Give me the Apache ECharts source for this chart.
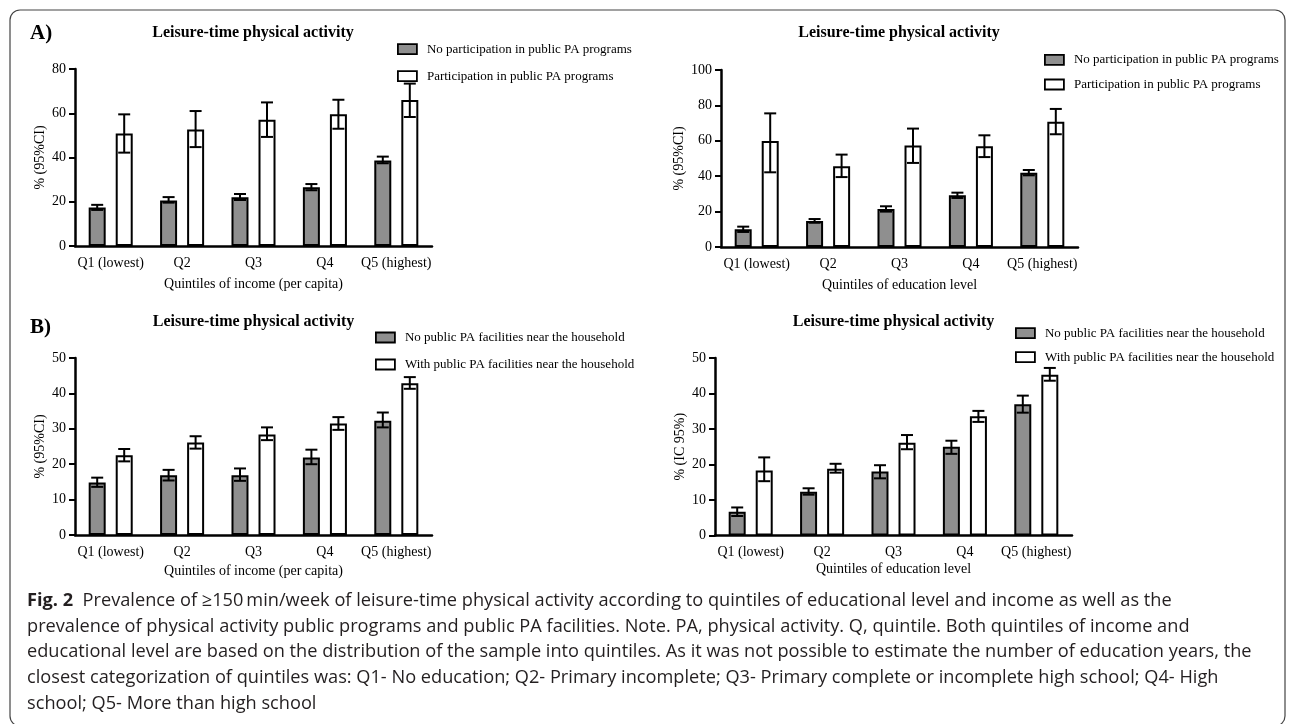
<!DOCTYPE html>
<html><head><meta charset="utf-8">
<script src="https://cdn.jsdelivr.net/npm/echarts@6/dist/echarts.min.js"></script>
<style>html,body{margin:0;padding:0;background:#fff}#c{width:1292px;height:724px}</style>
</head><body><div id="c"></div>
<script>
const categories = ['Q1 (lowest)', 'Q2', 'Q3', 'Q4', 'Q5 (highest)'];

// A) left: quintiles of income, PA programs
const aIncNo     = [17.4, 20.6, 22.0, 26.5, 38.7];
const aIncNoLo   = [16.3, 19.6, 20.8, 25.2, 37.4];
const aIncNoHi   = [18.6, 22.1, 23.5, 28.0, 40.4];
const aIncYes    = [50.8, 52.7, 57.1, 59.5, 66.0];
const aIncYesLo  = [42.2, 44.7, 49.3, 53.0, 58.3];
const aIncYesHi  = [59.5, 61.0, 64.9, 66.1, 73.4];

// A) right: quintiles of education, PA programs
const aEduNo     = [10.0, 14.7, 21.5, 29.2, 42.0];
const aEduNoLo   = [8.5, 13.7, 20.0, 27.7, 40.5];
const aEduNoHi   = [11.5, 15.8, 23.0, 30.7, 43.5];
const aEduYes    = [59.9, 45.6, 57.3, 56.9, 70.8];
const aEduYesLo  = [42.2, 39.5, 47.5, 50.8, 63.7];
const aEduYesHi  = [75.5, 52.2, 66.9, 63.1, 78.0];

// B) left: quintiles of income, PA facilities
const bIncNo     = [14.8, 16.9, 16.9, 21.9, 32.3];
const bIncNoLo   = [13.6, 15.4, 15.3, 20.0, 30.4];
const bIncNoHi   = [16.2, 18.4, 18.8, 24.1, 34.6];
const bIncYes    = [22.5, 26.1, 28.4, 31.5, 42.9];
const bIncYesLo  = [20.8, 24.4, 26.8, 29.7, 41.3];
const bIncYesHi  = [24.3, 27.9, 30.4, 33.3, 44.6];

// B) right: quintiles of education, PA facilities
const bEduNo     = [6.7, 12.3, 18.0, 25.0, 37.0];
const bEduNoLo   = [5.5, 11.5, 16.1, 23.0, 34.6];
const bEduNoHi   = [7.9, 13.3, 19.8, 26.7, 39.4];
const bEduYes    = [18.3, 18.8, 26.1, 33.6, 45.3];
const bEduYesLo  = [15.3, 17.7, 24.3, 32.0, 43.6];
const bEduYesHi  = [22.0, 20.2, 28.3, 35.1, 47.2];

const nameProgNo = 'No participation in public PA programs';
const nameProgYes = 'Participation in public PA programs';
const nameFacNo = 'No public PA facilities near the household';
const nameFacYes = 'With public PA facilities near the household';

const panelTitle = 'Leisure-time physical activity';
const xNameIncome = 'Quintiles of income (per capita)';
const xNameEdu = 'Quintiles of education level';
const yNameCI = '% (95%CI)';
const yNameIC = '% (IC 95%)';

const captionLines = [
  'Prevalence of \u2265150\u2009min/week of leisure-time physical activity according to quintiles of educational level and income as well as the',
  'prevalence of physical activity public programs and public PA facilities. Note. PA, physical activity. Q, quintile. Both quintiles of income and',
  'educational level are based on the distribution of the sample into quintiles. As it was not possible to estimate the number of education years, the',
  'closest categorization of quintiles was: Q1- No education; Q2- Primary incomplete; Q3- Primary complete or incomplete high school; Q4- High',
  'school; Q5- More than high school'
];

const SERIF = "'Liberation Serif','Times New Roman',serif";
const GRAY = '#8f8f8f';
const BAR_W = 17;
const OFF = 13.5;

const panels = [
  { grid: {left: 75, top: 69, width: 357, height: 177}, max: 80, interval: 20,
    xName: xNameIncome, yName: yNameCI, xGap: 31, yGap: 28,
    series: [[nameProgNo, aIncNo, aIncNoLo, aIncNoHi], [nameProgYes, aIncYes, aIncYesLo, aIncYesHi]],
    legend: {left: 397, top: 42.7, gap: 14} },
  { grid: {left: 721, top: 70, width: 357, height: 177}, max: 100, interval: 20,
    xName: xNameEdu, yName: yNameCI, xGap: 31, yGap: 35,
    series: [[nameProgNo, aEduNo, aEduNoLo, aEduNoHi], [nameProgYes, aEduYes, aEduYesLo, aEduYesHi]],
    legend: {left: 1044, top: 53.3, gap: 11.7} },
  { grid: {left: 75, top: 358, width: 357, height: 177}, max: 50, interval: 10,
    xName: xNameIncome, yName: yNameCI, xGap: 29, yGap: 28,
    series: [[nameFacNo, bIncNo, bIncNoLo, bIncNoHi], [nameFacYes, bIncYes, bIncYesLo, bIncYesHi]],
    legend: {left: 375, top: 331, gap: 14} },
  { grid: {left: 715, top: 358, width: 357, height: 177.5}, max: 50, interval: 10,
    xName: xNameEdu, yName: yNameIC, xGap: 27, yGap: 28,
    series: [[nameFacNo, bEduNo, bEduNoLo, bEduNoHi], [nameFacYes, bEduYes, bEduYesLo, bEduYesHi]],
    legend: {left: 1015, top: 326.7, gap: 11} }
];

function errRender(offset) {
  return function (params, api) {
    const i = api.value(0);
    const x = api.coord([i, 0])[0] + offset;
    const yLo = api.coord([i, api.value(1)])[1];
    const yHi = api.coord([i, api.value(2)])[1];
    const hw = 6;
    const st = {stroke: '#000', lineWidth: 2};
    return {type: 'group', children: [
      {type: 'line', shape: {x1: x, y1: yLo, x2: x, y2: yHi}, style: st},
      {type: 'line', shape: {x1: x - hw, y1: yHi, x2: x + hw, y2: yHi}, style: st},
      {type: 'line', shape: {x1: x - hw, y1: yLo, x2: x + hw, y2: yLo}, style: st}
    ]};
  };
}

const grids = [], xAxes = [], yAxes = [], series = [], legends = [];
panels.forEach((p, k) => {
  grids.push(p.grid);
  xAxes.push({
    type: 'category', gridIndex: k, data: categories,
    name: p.xName, nameLocation: 'middle', nameGap: p.xGap,
    nameTextStyle: {fontFamily: SERIF, fontSize: 14, color: '#000'},
    axisLine: {lineStyle: {color: '#000', width: 2.5}},
    axisTick: {alignWithLabel: true, length: 7, lineStyle: {color: '#000', width: 2.5}},
    axisLabel: {fontFamily: SERIF, fontSize: 14, color: '#000', margin: 10, interval: 0}
  });
  yAxes.push({
    type: 'value', gridIndex: k, min: 0, max: p.max, interval: p.interval,
    name: p.yName, nameLocation: 'middle', nameGap: p.yGap, nameRotate: 90,
    nameTextStyle: {fontFamily: SERIF, fontSize: 14, color: '#000'},
    axisLine: {show: true, lineStyle: {color: '#000', width: 2.5}},
    axisTick: {show: true, length: 6, lineStyle: {color: '#000', width: 2}},
    axisLabel: {fontFamily: SERIF, fontSize: 14, color: '#000', margin: 9},
    splitLine: {show: false}
  });
  p.series.forEach((s, j) => {
    series.push({
      type: 'bar', name: s[0], xAxisIndex: k, yAxisIndex: k, data: s[1],
      barWidth: BAR_W, barGap: '59%',
      itemStyle: {color: j === 0 ? GRAY : '#fff', borderColor: '#000', borderWidth: 2},
      emphasis: {disabled: true}, z: 2
    });
    series.push({
      type: 'custom', name: s[0] + ' CI', xAxisIndex: k, yAxisIndex: k,
      data: categories.map((c, i) => [i, s[2][i], s[3][i]]),
      encode: {x: 0, y: [1, 2]},
      renderItem: errRender(j === 0 ? -OFF : OFF), z: 5, silent: true
    });
  });
  legends.push({
    orient: 'vertical', left: p.legend.left, top: p.legend.top, padding: 0,
    itemWidth: 19, itemHeight: 10, itemGap: p.legend.gap, selectedMode: false,
    textStyle: {fontFamily: SERIF, fontSize: 13, color: '#000', lineHeight: 10, padding: [0, 0, 0, 5]},
    data: [
      {name: p.series[0][0], icon: 'rect', itemStyle: {color: GRAY, borderColor: '#000', borderWidth: 1.8}},
      {name: p.series[1][0], icon: 'rect', itemStyle: {color: '#fff', borderColor: '#000', borderWidth: 1.8}}
    ]
  });
});

// caption font size chosen to fit the measured width of the longest line
const CAP_FONT = "'Open Sans', sans-serif";
const mctx = document.createElement('canvas').getContext('2d');
mctx.font = "100px 'Open Sans'";
let capSize = 100 * 1225 / mctx.measureText(captionLines[2]).width;
capSize = Math.max(14, Math.min(19, capSize));

const graphics = [
  {type: 'rect', shape: {x: 10, y: 10, width: 1275, height: 716, r: 10}, style: {fill: 'none', stroke: '#444', lineWidth: 1.2}, silent: true},
  {type: 'text', x: 30, y: 34, style: {text: 'A)', fontFamily: SERIF, fontWeight: 'bold', fontSize: 21, fill: '#000', verticalAlign: 'middle'}},
  {type: 'text', x: 30, y: 328, style: {text: 'B)', fontFamily: SERIF, fontWeight: 'bold', fontSize: 21, fill: '#000', verticalAlign: 'middle'}},
  {type: 'text', x: 253, y: 33, style: {text: panelTitle, fontFamily: SERIF, fontWeight: 'bold', fontSize: 16, fill: '#000', align: 'center', verticalAlign: 'middle'}},
  {type: 'text', x: 899, y: 33, style: {text: panelTitle, fontFamily: SERIF, fontWeight: 'bold', fontSize: 16, fill: '#000', align: 'center', verticalAlign: 'middle'}},
  {type: 'text', x: 253.5, y: 322, style: {text: panelTitle, fontFamily: SERIF, fontWeight: 'bold', fontSize: 16, fill: '#000', align: 'center', verticalAlign: 'middle'}},
  {type: 'text', x: 893.5, y: 322, style: {text: panelTitle, fontFamily: SERIF, fontWeight: 'bold', fontSize: 16, fill: '#000', align: 'center', verticalAlign: 'middle'}}
];
captionLines.forEach((line, i) => {
  graphics.push({
    type: 'text', x: 27, y: 601 + 25.6 * i,
    style: {
      text: i === 0 ? '{b|Fig. 2}  ' + line : line,
      fontFamily: CAP_FONT, fontSize: capSize, fill: '#231f20', verticalAlign: 'middle',
      rich: {b: {fontFamily: CAP_FONT, fontSize: capSize, fontWeight: 'bold', fill: '#231f20'}}
    }
  });
});

const chart = echarts.init(document.getElementById('c'), null, {renderer: 'canvas'});
chart.setOption({
  animation: false,
  backgroundColor: '#fff',
  grid: grids, xAxis: xAxes, yAxis: yAxes, series: series, legend: legends,
  graphic: graphics
});
</script>
</body></html>
